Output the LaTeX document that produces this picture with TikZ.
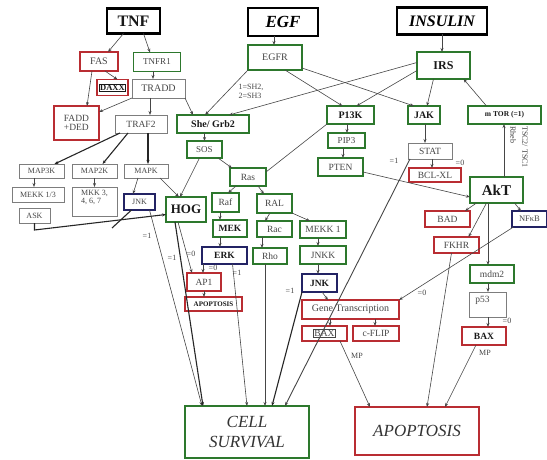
\documentclass[tikz,border=0pt]{standalone}
\usepackage{fontspec}
\setmainfont{Liberation Serif}
\usetikzlibrary{arrows.meta,calc}
\definecolor{redc}{RGB}{185,45,50}
\definecolor{greenc}{RGB}{45,120,45}
\definecolor{bluec}{RGB}{35,35,100}
\definecolor{grayc}{RGB}{125,125,125}
\definecolor{txt}{RGB}{70,70,70}
\definecolor{linec}{RGB}{70,70,70}
\tikzset{
 bx/.style={draw, rectangle, inner sep=0pt, outer sep=0pt, align=center, text=txt, font=\fontsize{9}{10}\selectfont},
 rb/.style={bx, draw=redc, line width=1.5pt},
 gb/.style={bx, draw=greenc, line width=1.5pt},
 bb/.style={bx, draw=bluec, line width=1.5pt},
 kb/.style={bx, draw=grayc, line width=0.8pt},
 tb/.style={bx, draw=black, line width=2.8pt, text=black},
 sz/.style 2 args={minimum width=#1pt, minimum height=#2pt},
 fs/.style={font=\fontsize{#1}{#1}\selectfont},
 bf/.style={font=\fontsize{#1}{#1}\selectfont\bfseries, text=black!90},
 bfi/.style={font=\fontsize{#1}{#1}\selectfont\bfseries\itshape, text=black},
 fi/.style={font=\fontsize{#1}{20}\selectfont\itshape, text=black!80},
 ar/.style={-{Stealth[length=4pt,width=3pt]}, draw=linec, line width=0.6pt},
 tk/.style={ar, line width=1.1pt, draw=black!85},
 ln/.style={draw=linec, line width=0.6pt},
 lb/.style={font=\fontsize{8}{8.5}\selectfont, text=txt, inner sep=0pt},
}
\begin{document}
\begin{tikzpicture}[x=1pt,y=-1pt]
\useasboundingbox (0,0) rectangle (547,460);
\fill[white] (0,0) rectangle (547,460);
% top
\node[tb, sz={53}{25}, bf=16] (tnf) at (133.5,21) {TNF};
\node[tb, sz={70}{28}, bfi=17] (egf) at (283,22) {EGF};
\node[tb, sz={90}{27}, bfi=16] (ins) at (442,21) {INSULIN};
% row 2
\node[rb, sz={38}{19}, fs=10] (fas) at (99,61.5) {FAS};
\node[gb, sz={47}{19}] (tnfr1) at (157,62) {TNFR1};
\node[gb, sz={54}{25}, fs=10] (egfr) at (275,57.5) {EGFR};
\node[gb, sz={53}{27}, bf=12] (irs) at (443.5,65.5) {IRS};
\node[rb, sz={31}{16}, bf=8.5] (daxx) at (112.5,87.5) {\setlength\fboxsep{0.4pt}\setlength\fboxrule{0.5pt}\fbox{DAXX}};
\node[kb, sz={53}{19}, fs=10] (tradd) at (158.5,88.5) {TRADD};
\node[rb, sz={45}{34}, fs=9.5, align=left] (fadd) at (76.5,123) {FADD\\+DED};
\node[kb, sz={52}{18}, fs=9.5] (traf2) at (141,124) {TRAF2};
\node[gb, sz={72}{18}, bf=10] (shc) at (213,124) {She/ Grb2};
\node[gb, sz={47}{18}, bf=10] (p13k) at (350.5,115) {P13K};
\node[gb, sz={32}{18}, bf=10] (jak) at (424,115) {JAK};
\node[gb, sz={73}{18}, bf=7.5] (mtor) at (504.5,115) {m TOR (=1)};
\node[gb, sz={37}{15}, fs=9] (pip3) at (346.5,140.5) {PIP3};
\node[gb, sz={35}{17}, fs=9] (sos) at (204.5,149.5) {SOS};
\node[kb, sz={44}{16}, fs=9.5] (stat) at (430,151) {STAT};
\node[gb, sz={45}{18}, fs=9.5] (pten) at (340.5,167) {PTEN};
\node[rb, sz={52}{14}, fs=9.5] (bclxl) at (435,175) {BCL-XL};
% left MAP cascade
\node[kb, sz={45}{14}, fs=8] (map3k) at (41.5,171) {MAP3K};
\node[kb, sz={45}{14}, fs=8] (map2k) at (94.5,171) {MAP2K};
\node[kb, sz={44}{14}, fs=8] (mapk) at (146,171) {MAPK};
\node[kb, sz={52}{15}, fs=8] (mekk13) at (38,194.5) {MEKK 1/3};
\node[kb, sz={45}{29}, fs=8, align=left, text depth=9pt] (mkk) at (94.5,201.5) {MKK 3,\\4, 6, 7};
\node[kb, sz={31}{15}, fs=8] (ask) at (34.5,215.5) {ASK};
\node[bb, sz={31}{16}, fs=8] (jnkl) at (139.5,202) {JNK};
\node[gb, sz={40}{25}, bf=13] (hog) at (186,209.5) {HOG};
% middle cascade
\node[gb, sz={36}{18}, fs=9.5] (ras) at (248,177) {Ras};
\node[gb, sz={27}{19}, fs=9.5] (raf) at (225.5,202.5) {Raf};
\node[gb, sz={35}{19}, fs=9.5] (ral) at (274.5,203.5) {RAL};
\node[gb, sz={34}{17}, bf=9.5] (mek) at (230,228.5) {MEK};
\node[gb, sz={35}{16}, fs=9.5] (rac) at (274.5,229) {Rac};
\node[gb, sz={46}{17}, fs=9.5] (mekk1) at (323,229.5) {MEKK 1};
\node[bb, sz={45}{17}, bf=9.5] (erk) at (224.5,255.5) {ERK};
\node[gb, sz={34}{16}, fs=9.5] (rho) at (270,256) {Rho};
\node[gb, sz={46}{18}, fs=9.5] (jnkk) at (323,255) {JNKK};
\node[bb, sz={35}{18}, bf=9.5] (jnkm) at (319.5,283) {JNK};
\node[rb, sz={34}{18}, fs=9.5] (ap1) at (204,282) {AP1};
\node[rb, sz={57}{14}, bf=7] (apsm) at (213.5,304) {APOPTOSIS};
\node[rb, sz={97}{19}, fs=10] (gene) at (350.5,309.5) {Gene Transcription};
\node[rb, sz={45}{15}, fs=9.5] (baxl) at (324.5,333.5) {\setlength\fboxsep{0.4pt}\setlength\fboxrule{0.6pt}\fbox{BAX}};
\node[rb, sz={46}{15}, fs=9.5] (cflip) at (376,333.5) {c-FLIP};
% right side
\node[gb, sz={53}{26}, bf=15] (akt) at (496.5,190) {AkT};
\node[rb, sz={45}{16}, fs=9.5] (bad) at (447.5,219) {BAD};
\node[bb, sz={35}{16}, fs=8.5] (nfkb) at (529.5,219) {NFκB};
\node[rb, sz={45}{16}, fs=9.5] (fkhr) at (456.5,245) {FKHR};
\node[gb, sz={44}{18}, fs=9.5] (mdm2) at (492,274) {mdm2};
\node[kb, sz={37}{25}, fs=9.5, text depth=10pt] (p53) at (487.5,304.5) {p53\hspace*{10pt}};
\node[rb, sz={44}{18}, bf=9.5] (baxr) at (484,336) {BAX};
% outcomes
\node[rb, sz={124}{48}, fi=17] (apop) at (417,431) {APOPTOSIS};
\node[gb, sz={124}{52}, fi=17] (cs) at (247,432) {CELL\\SURVIVAL};
\coordinate (jnkx) at (112,228);
% connectors
\draw[ar] ([xshift=-10pt]tnf.south) -- ([xshift=9pt]fas.north);
\draw[ar] ([xshift=10pt]tnf.south) -- ([xshift=-7pt]tnfr1.north);
\draw[ar] ([xshift=-4pt]tnfr1.south) -- ([xshift=-5.5pt]tradd.north);
\draw[ar] ([xshift=-7pt]fas.south) -- ([xshift=10.5pt]fadd.north);
\draw[ar] ([xshift=6pt]fas.south) -- ([xshift=5pt]daxx.north);
\draw[ar] (tradd.south west) -- ([yshift=-6pt]fadd.north east);
\draw[ar] ([xshift=-8.5pt]tradd.south) -- ([xshift=9pt]traf2.north);
\draw[ar] (tradd.south east) -- ([xshift=-20pt]shc.north);
\draw[ar] ([xshift=-9pt]egf.south) -- ([xshift=-1pt]egfr.north);
\draw[ar] (egfr.south west) -- ([xshift=-8pt]shc.north);
\draw[ar] ([xshift=10pt]egfr.south) -- ([xshift=-8pt]p13k.north);
\draw[ar] ([yshift=2pt]egfr.south east) -- ([xshift=-10pt]jak.north);
\draw[ar] (ins.south) -- (ins.south |- irs.north);
\draw[ar] ([yshift=3pt]irs.west) -- ([xshift=16pt]shc.north);
\draw[ar] ([yshift=-5pt]irs.west) -- ([xshift=6pt]p13k.north);
\draw[ar] ([xshift=-10pt]irs.south) -- ([xshift=3pt]jak.north);
\draw[ar] ([xshift=-18pt]mtor.north) -- ([xshift=20pt]irs.south);
\draw[ar] ([xshift=7.5pt]akt.north) -- ([xshift=-0.5pt]mtor.south);
\draw[ar] ([xshift=-3.5pt]p13k.south) -- ([xshift=0.5pt]pip3.north);
\draw[ar] ([xshift=-3.5pt]pip3.south) -- ([xshift=2.5pt]pten.north);
\draw[ln] (p13k.south west) -- ([yshift=-4pt]ras.north east);
\draw[ar] ([xshift=1pt]jak.south) -- ([xshift=-5pt]stat.north);
\draw[ar] ([xshift=2pt]stat.south) -- ([xshift=-3pt]bclxl.north);
\draw[ar] ([yshift=-5pt]pten.east) -- ([yshift=-7pt]akt.west);
\draw[ar, line width=0.9pt] ([xshift=2pt]stat.south west) -- ([xshift=38pt]cs.north);
\draw[ar] (sos.north |- shc.south) -- (sos.north);
\draw[ar] ([xshift=-4pt]sos.south east) -- ([xshift=-16pt]ras.north);
\draw[ar] ([xshift=-5pt]sos.south) -- ([xshift=-6pt]hog.north);
\draw[ar] ([xshift=14pt]mapk.south) -- ([xshift=-7pt]hog.north);
\draw[tk] ([xshift=-21pt]traf2.south) -- ([xshift=13pt]map3k.north);
\draw[tk] ([xshift=-13pt]traf2.south) -- ([xshift=8pt]map2k.north);
\draw[tk] ([xshift=7pt]traf2.south) -- ([xshift=2pt]mapk.north);
\draw[ar] ([xshift=-7.5pt]map3k.south) -- ([xshift=-4pt]mekk13.north);
\draw[ar] (map2k.south) -- (mkk.north);
\draw[ar] ([xshift=-8pt]mapk.south) -- ([xshift=-6.5pt]jnkl.north);
\draw[tk] (ask.south) -- ++(0,7) -- ([yshift=-5pt]hog.west);
\draw[tk, -] ([xshift=-8pt]jnkl.south) -- (jnkx);
\draw[ar] ([xshift=10pt]jnkl.south) -- ([xshift=-45pt]cs.north);
\draw[tk] ([xshift=-11pt]hog.south) -- ([xshift=-44pt]cs.north);
\draw[ar] ([xshift=-8pt]hog.south) -- ([xshift=-12pt]ap1.north);
\draw[ar] ([xshift=-12pt]ras.south) -- ([xshift=2.5pt]raf.north);
\draw[ar] ([xshift=10pt]ras.south) -- ([xshift=-10.5pt]ral.north);
\draw[ar] ([xshift=-5.5pt]raf.south) -- ([xshift=-10pt]mek.north);
\draw[ar] ([xshift=-10pt]mek.south) -- ([xshift=-4.5pt]erk.north);
\draw[ar] ([xshift=-4.5pt]ral.south) -- ([xshift=-9.5pt]rac.north);
\draw[ar] (ral.south east) -- ([xshift=-13pt]mekk1.north);
\draw[ar] ([xshift=-12.5pt]rac.south) -- ([xshift=-8pt]rho.north);
\draw[ar] ([xshift=-5pt]mekk1.south) -- ([xshift=-5pt]jnkk.north);
\draw[ar] ([xshift=-5pt]jnkk.south) -- ([xshift=-1.5pt]jnkm.north);
\draw[ar] ([xshift=-21.5pt]erk.south) -- ([xshift=-1pt]ap1.north);
\draw[ar] ([xshift=8pt]erk.south) -- (cs.north);
\draw[ar] ([xshift=-5pt]rho.south) -- ([xshift=18pt]cs.north);
\draw[ar] ([xshift=2.5pt]jnkm.south) -- ([xshift=-22.5pt]gene.north);
\draw[tk] (jnkm.south west) -- ([xshift=25pt]cs.north);
\draw[ar] (ap1.south) -- (ap1.south |- apsm.north);
\draw[ar] ([xshift=-20.5pt]gene.south) -- ([xshift=5.5pt]baxl.north);
\draw[ar] ([xshift=24.5pt]gene.south) -- ([xshift=-1pt]cflip.north);
\draw[ar] ([xshift=-7pt]baxl.south east) -- ([xshift=-47pt]apop.north);
\draw[ar] ([xshift=-20pt]akt.south) -- ([xshift=-5pt]bad.north east);
\draw[ar] ([xshift=-10pt]akt.south) -- ([xshift=12pt]fkhr.north);
\draw[ar] ([xshift=-8.5pt]akt.south) -- ([xshift=-4pt]mdm2.north);
\draw[ar] ([xshift=18pt]akt.south) -- ([xshift=-8.5pt]nfkb.north);
\draw[ar] ([xshift=-16pt]nfkb.south) -- (gene.north east);
\draw[ar] ([xshift=-5pt]fkhr.south) -- ([xshift=10pt]apop.north);
\draw[ar] ([xshift=-4pt]mdm2.south) -- ([xshift=0.5pt]p53.north);
\draw[ar] ([xshift=0.5pt]p53.south) -- ([xshift=4pt]baxr.north);
\draw[ar] ([xshift=-8pt]baxr.south) -- ([xshift=28pt]apop.north);
% labels
\node[lb, align=left] (sh) at (251,91.5) {1=SH2,\\2=SH3};
\node[lb] (l1) at (394,161) {=1};
\node[lb] (l2) at (460,163) {=0};
\node[lb] (l3) at (147,236) {=1};
\node[lb] (l4) at (172,258) {=1};
\node[lb] (l5) at (191,254) {=0};
\node[lb] (l6) at (213,268) {=0};
\node[lb] (l7) at (237,273) {=1};
\node[lb] (l8) at (290,291) {=1};
\node[lb] (l9) at (422,293) {=0};
\node[lb] (l10) at (507,321) {=0};
\node[lb] (mp1) at (357,356) {MP};
\node[lb] (mp2) at (485,353) {MP};
\node[lb, rotate=-90] (tsc) at (525,147) {TSC2/ TSC1};
\node[lb, rotate=-90] (rheb) at (513,135) {Rheb};
\end{tikzpicture}
\end{document}
